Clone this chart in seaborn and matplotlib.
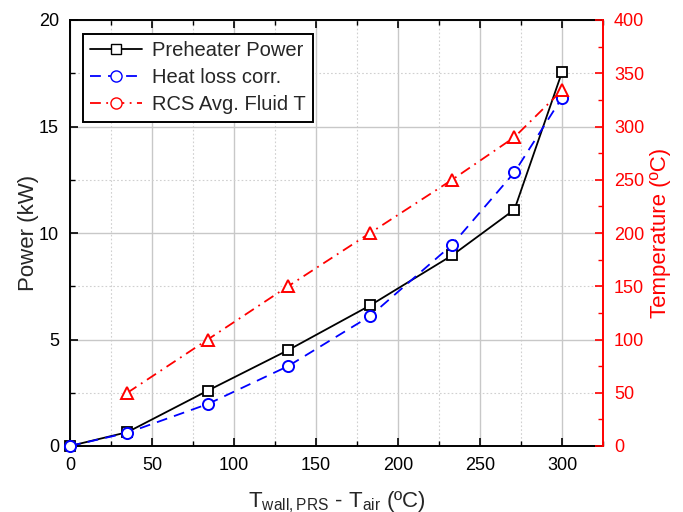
import numpy as np
import pandas as pd
import matplotlib
matplotlib.use("Agg")
import matplotlib.pyplot as plt
import seaborn as sns
from matplotlib.lines import Line2D
from matplotlib.ticker import MultipleLocator

# values
dT = [0, 35, 84, 133, 183, 233, 271, 300]
preheater_kw = [0.0, 0.65, 2.6, 4.5, 6.6, 8.95, 11.1, 17.55]
heatloss_kw = [0.0, 0.62, 1.97, 3.75, 6.1, 9.45, 12.85, 16.35]
dT_fluid = [35, 84, 133, 183, 233, 271, 300]
fluid_T = [50, 100, 150, 200, 250, 290, 334]

sns.set_style("white")
plt.rcParams['font.family'] = ['Liberation Sans', 'DejaVu Sans']
plt.rcParams['mathtext.default'] = 'regular'

fig = plt.figure(figsize=(6.83, 5.12), dpi=100)
ax = fig.add_axes([70/683, 66/512, 533/683, 426/512])
ax2 = ax.twinx()

df = pd.DataFrame({'dT': dT, 'pre': preheater_kw, 'loss': heatloss_kw})
dff = pd.DataFrame({'dT': dT_fluid, 'T': fluid_T})

sns.lineplot(data=df, x='dT', y='pre', ax=ax, color='black', lw=1.3,
             marker='s', markersize=7, markerfacecolor='white',
             markeredgecolor='black', markeredgewidth=1.3, zorder=4,
             clip_on=False)
sns.lineplot(data=df, x='dT', y='loss', ax=ax, color='blue', lw=1.3,
             linestyle=(0, (6, 4)), marker='o', markersize=8,
             markerfacecolor='white', markeredgecolor='blue',
             markeredgewidth=1.4, zorder=5, clip_on=False)
sns.lineplot(data=dff, x='dT', y='T', ax=ax2, color='red', lw=1.3,
             linestyle=(0, (6, 3, 1, 3)), marker='^', markersize=9,
             markerfacecolor='white', markeredgecolor='red',
             markeredgewidth=1.4)

ax.set_xlim(0, 325)
ax.set_ylim(0, 20)
ax2.set_ylim(0, 400)

ax.xaxis.set_major_locator(MultipleLocator(50))
ax.xaxis.set_minor_locator(MultipleLocator(25))
ax.yaxis.set_major_locator(MultipleLocator(5))
ax.yaxis.set_minor_locator(MultipleLocator(2.5))
ax2.yaxis.set_major_locator(MultipleLocator(50))
ax2.yaxis.set_minor_locator(MultipleLocator(25))

ax.grid(True, which='major', color='#c8c8c8', lw=1.0, ls='-')
ax.grid(True, which='minor', color='#d0d0d0', lw=0.8, ls=(0, (1.5, 2)))
ax.set_axisbelow(True)

ax.tick_params(axis='both', which='both', direction='in', labelsize=13,
               top=True, bottom=True, left=True, right=False, colors='black')
ax.tick_params(which='major', length=6, width=1.2)
ax.tick_params(which='minor', length=3.5, width=1.0)
ax.tick_params(axis='x', pad=8)
ax.tick_params(axis='y', pad=8)
ax2.tick_params(axis='y', which='both', direction='in', colors='red', labelsize=13)
ax2.tick_params(which='major', length=6, width=1.2, pad=8)
ax2.tick_params(which='minor', length=3.5, width=1.0)

for s in ['left', 'bottom', 'top']:
    ax.spines[s].set_color('black')
    ax.spines[s].set_linewidth(1.4)
ax2.spines['right'].set_color('red')
ax2.spines['right'].set_linewidth(1.4)
for s in ['left', 'bottom', 'top']:
    ax2.spines[s].set_visible(False)
ax.spines['right'].set_visible(False)

ax.set_ylabel('Power (kW)', fontsize=16)
ax2.set_ylabel('Temperature (ºC)', fontsize=16, color='red')
ax.set_xlabel(r'T$_{wall,PRS}$ - T$_{air}$ (ºC)', fontsize=16)
ax.xaxis.set_label_coords(0.5, -0.102)
ax.yaxis.set_label_coords(-0.058, 0.5)
ax2.yaxis.set_label_coords(1.088, 0.5)

handles = [
    Line2D([], [], color='black', lw=1.3, marker='s', markersize=7,
           markerfacecolor='white', markeredgecolor='black'),
    Line2D([], [], color='blue', lw=1.3, ls=(0, (6, 4)), marker='o',
           markersize=8, markerfacecolor='white', markeredgecolor='blue'),
    Line2D([], [], color='red', lw=1.3, ls=(0, (6, 3, 1, 3)), marker='o',
           markersize=8, markerfacecolor='white', markeredgecolor='red'),
]
labels = ['Preheater Power', 'Heat loss corr.', 'RCS Avg. Fluid T']
leg = ax2.legend(handles, labels, loc='upper left', fontsize=14.5,
                 frameon=True, fancybox=False, edgecolor='black',
                 handlelength=2.6, borderpad=0.35, labelspacing=0.4,
                 handletextpad=0.5, bbox_to_anchor=(0.005, 0.99))
leg.get_frame().set_linewidth(1.4)
leg.get_frame().set_alpha(1)

fig.savefig('out.png', dpi=100)
